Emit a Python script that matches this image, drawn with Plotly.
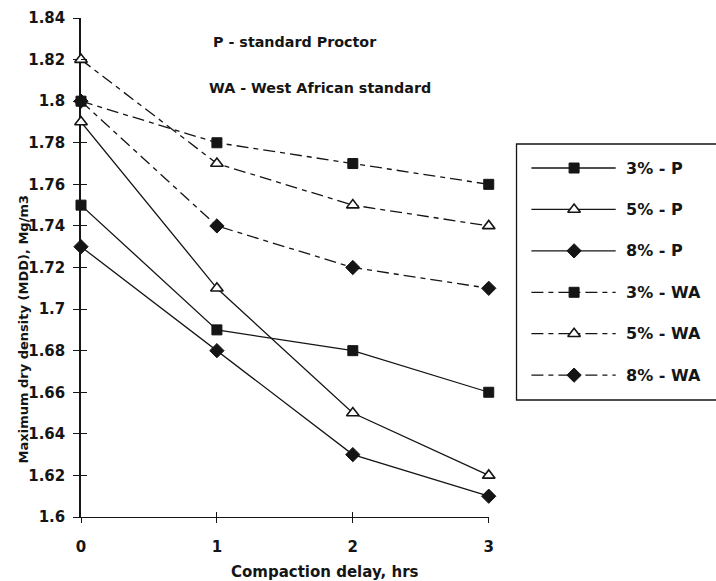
import plotly.graph_objects as go

# Compaction delay (hours) and maximum dry density (Mg/m3) per mix
delay_hrs = [0, 1, 2, 3]
series_names = ["3% - P", "5% - P", "8% - P", "3% - WA", "5% - WA", "8% - WA"]
mdd_3p = [1.75, 1.69, 1.68, 1.66]
mdd_5p = [1.79, 1.71, 1.65, 1.62]
mdd_8p = [1.73, 1.68, 1.63, 1.61]
mdd_3wa = [1.80, 1.78, 1.77, 1.76]
mdd_5wa = [1.82, 1.77, 1.75, 1.74]
mdd_8wa = [1.80, 1.74, 1.72, 1.71]

y_ticks = [1.6, 1.62, 1.64, 1.66, 1.68, 1.7, 1.72, 1.74, 1.76, 1.78, 1.8, 1.82, 1.84]
y_tick_text = ["1.6", "1.62", "1.64", "1.66", "1.68", "1.7", "1.72", "1.74",
               "1.76", "1.78", "1.8", "1.82", "1.84"]
x_ticks = [0, 1, 2, 3]
x_tick_text = ["0", "1", "2", "3"]

FONT = "DejaVu Sans"
INK = "#151515"
WA_DASH = "12px,5px,5px,5px"

marker_styles = {
    "square": dict(symbol="square", size=10, color=INK, line=dict(color=INK, width=1)),
    "triangle": dict(symbol="triangle-up", size=11, color="white", line=dict(color=INK, width=1.6)),
    "diamond": dict(symbol="diamond", size=11, color=INK, line=dict(color=INK, width=1)),
}

series = [
    (series_names[0], mdd_3p, "square", "solid"),
    (series_names[1], mdd_5p, "triangle", "solid"),
    (series_names[2], mdd_8p, "diamond", "solid"),
    (series_names[3], mdd_3wa, "square", WA_DASH),
    (series_names[4], mdd_5wa, "triangle", WA_DASH),
    (series_names[5], mdd_8wa, "diamond", WA_DASH),
]

fig = go.Figure()

for name, vals, mk, dash in series:
    fig.add_trace(go.Scatter(
        x=delay_hrs, y=vals, mode="lines+markers", name=name,
        line=dict(color=INK, width=1.3, dash=dash),
        marker=marker_styles[mk], cliponaxis=False, showlegend=False,
        xaxis="x", yaxis="y",
    ))

# Hand-built key in its own small axes to the right of the plot
key_line_x = [0.0765, 0.296, 0.51]
for row, (name, vals, mk, dash) in enumerate(series):
    fig.add_trace(go.Scatter(
        x=key_line_x, y=[row] * 3, mode="lines",
        line=dict(color=INK, width=1.3, dash=dash),
        showlegend=False, hoverinfo="skip", xaxis="x2", yaxis="y2",
    ))
    fig.add_trace(go.Scatter(
        x=[key_line_x[1]], y=[row], mode="markers",
        marker=marker_styles[mk], showlegend=False, hoverinfo="skip",
        xaxis="x2", yaxis="y2", cliponaxis=False,
    ))
    fig.add_annotation(
        x=0.551, y=row, xref="x2", yref="y2", text="<b>" + name + "</b>", showarrow=False,
        xanchor="left", yanchor="middle", font=dict(family=FONT, size=16, color=INK),
    )

axis_font = dict(family=FONT, size=15, color=INK, weight="bold")

fig.update_layout(
    width=716, height=581,
    margin=dict(l=81, r=0, t=18, b=64),
    paper_bgcolor="white", plot_bgcolor="white",
    showlegend=False,
    xaxis=dict(
        domain=[0, 0.6472], range=[0, 3], tickvals=x_ticks, ticktext=x_tick_text,
        showgrid=False, zeroline=False, showline=True, linecolor=INK, linewidth=1.3,
        ticks="outside", ticklen=5, tickcolor=INK, tickwidth=1.2,
        tickfont=axis_font, ticklabelstandoff=11, layer="below traces",
    ),
    yaxis=dict(
        range=[1.6, 1.84], tickvals=y_ticks, ticktext=y_tick_text,
        showgrid=False, zeroline=False, showline=True, linecolor=INK, linewidth=1.5,
        ticks="outside", ticklen=6, tickcolor=INK, tickwidth=1.2,
        tickfont=axis_font, ticklabelstandoff=5, layer="below traces",
    ),
    xaxis3=dict(
        overlaying="x", matches="x", range=[0, 3], tickvals=x_ticks[1:],
        showticklabels=False, showgrid=False, zeroline=False, showline=False,
        ticks="inside", ticklen=5, tickcolor=INK, tickwidth=1.2, anchor="y",
    ),
    yaxis3=dict(
        overlaying="y", range=[1.6, 1.84], tickvals=y_ticks,
        showticklabels=False, showgrid=False, zeroline=False, showline=False,
        ticks="inside", ticklen=6, tickcolor=INK, tickwidth=1.2, anchor="x",
    ),
    xaxis2=dict(domain=[0.6913, 1.0], range=[0, 1], visible=False, anchor="y2"),
    yaxis2=dict(domain=[0.2345, 0.7475], range=[5.6, -0.58], visible=False, anchor="x2"),
)

# A dummy trace so the overlay tick axes get drawn
fig.add_trace(go.Scatter(x=[None], y=[None], xaxis="x3", yaxis="y3", showlegend=False))

# Key frame
fig.add_shape(type="rect", xref="paper", yref="paper",
              x0=0.6913, x1=1.05, y0=0.2345, y1=0.7475,
              line=dict(color=INK, width=1.3), fillcolor="rgba(0,0,0,0)")

text_font = dict(family=FONT, size=14.3, color=INK)
fig.add_annotation(x=0.2063, y=0.952, xref="paper", yref="paper",
                   text="<b>P - standard Proctor</b>", showarrow=False,
                   xanchor="left", yanchor="middle", font=text_font)
fig.add_annotation(x=0.2, y=0.8597, xref="paper", yref="paper",
                   text="<b>WA - West African standard</b>", showarrow=False,
                   xanchor="left", yanchor="middle", font=text_font)

# Axis titles
fig.add_annotation(x=0.387, y=-0.110, xref="paper", yref="paper",
                   text="<b>Compaction delay, hrs</b>", showarrow=False,
                   xanchor="center", yanchor="middle",
                   font=dict(family=FONT, size=15, color=INK))
fig.add_annotation(x=-0.0898, y=0.3768, xref="paper", yref="paper",
                   text="<b>Maximum dry density (MDD), Mg/m3</b>", showarrow=False,
                   textangle=-90, xanchor="center", yanchor="middle",
                   font=dict(family=FONT, size=13, color=INK))

fig.write_html("out.html")
